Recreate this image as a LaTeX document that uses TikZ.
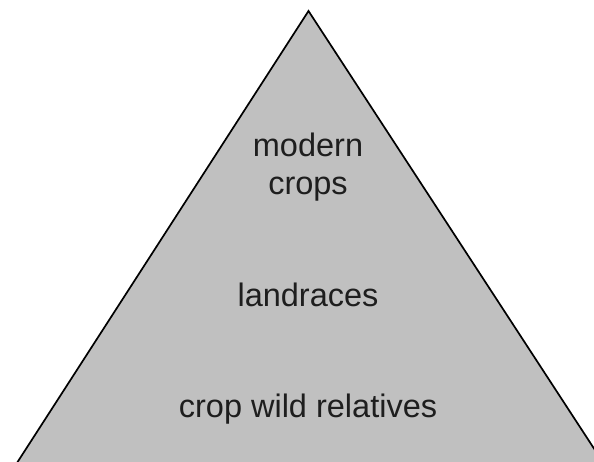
\documentclass[tikz,border=0pt]{standalone}
\usepackage{fontspec}
\setmainfont{Liberation Sans}
\definecolor{pyrfill}{HTML}{C0C0C0}
\definecolor{txt}{HTML}{1E1E1E}
\begin{document}
\begin{tikzpicture}[x=1pt,y=1pt,
  lbl/.style={anchor=base,inner sep=0pt,text=txt,font=\fontsize{32.5}{38}\selectfont}]
\useasboundingbox (0,0) rectangle (594,462);
\clip (0,0) rectangle (594,462);
\coordinate (apex) at (308.5,451);
\coordinate (bl) at (12.4,-8);
\coordinate (br) at (608,-8);
\draw[fill=pyrfill,line width=1.7pt,line join=miter] (bl) -- (apex) -- (br) -- cycle;
\node[lbl] (m1) at (308,305) {modern};
\node[lbl] (m2) at (308,267) {crops};
\node[lbl] (l) at (308,155) {landraces};
\node[lbl] (c) at (308,44) {crop wild relatives};
\end{tikzpicture}
\end{document}
